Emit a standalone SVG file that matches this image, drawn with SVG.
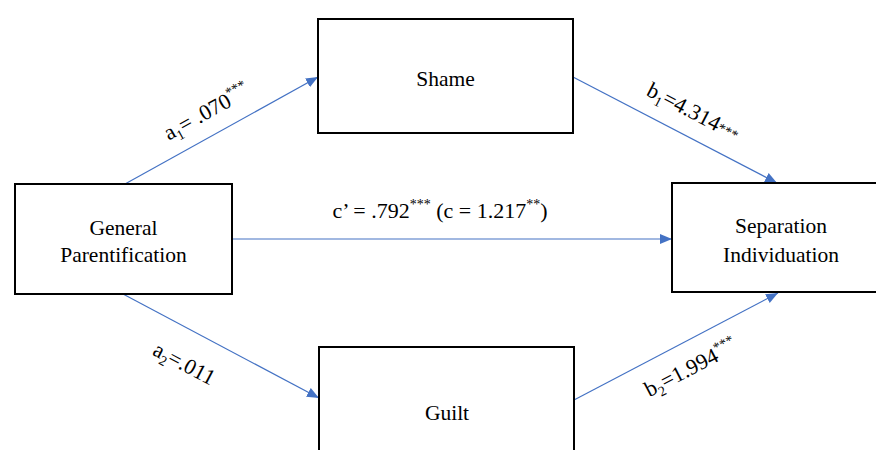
<svg xmlns="http://www.w3.org/2000/svg" width="876" height="450" viewBox="0 0 876 450">
<style>
text{font-family:'Times New Roman',Tinos,'Liberation Serif','DejaVu Serif','Noto Serif',Times,serif;fill:#000}
.lbl{font-size:22px}
.nt{font-size:21.5px;text-anchor:middle}
.sm{font-size:14px;fill:#000}
.box{fill:#fff;stroke:#000;stroke-width:2}
.cn{stroke:#4472C4;stroke-width:1.2;fill:none}
</style>
<defs>
<marker id="ah" markerUnits="userSpaceOnUse" markerWidth="12" markerHeight="10" refX="12" refY="5" orient="auto">
<path d="M0,0 L12,5 L0,10 Z" fill="#4472C4"/>
</marker>
</defs>
<rect width="876" height="450" fill="#fff"/>
<g id="connectors">
<line class="cn" x1="125" y1="184" x2="318" y2="77" marker-end="url(#ah)"/>
<line class="cn" x1="573" y1="77" x2="777" y2="183" marker-end="url(#ah)"/>
<line class="cn" x1="232" y1="239" x2="672" y2="239" marker-end="url(#ah)"/>
<line class="cn" x1="123" y1="294" x2="319" y2="398" marker-end="url(#ah)"/>
<line class="cn" x1="574" y1="400" x2="778" y2="293" marker-end="url(#ah)"/>
<text class="lbl" text-anchor="middle" transform="translate(210,118) rotate(-29)">a<tspan class="sm" dy="5">1</tspan><tspan dy="-5">= .070</tspan><tspan class="sm" dy="-9">***</tspan></text>
<text class="lbl" text-anchor="middle" transform="translate(690,118) rotate(27.5)">b<tspan class="sm" dy="5">1</tspan><tspan dy="-5">=4.314</tspan><tspan class="sm" dy="-1">***</tspan></text>
<text class="lbl" text-anchor="middle" x="440" y="218">c’ = .792<tspan class="sm" dy="-9">***</tspan><tspan dy="9"> (c = 1.217</tspan><tspan class="sm" dy="-9">**</tspan><tspan dy="9">)</tspan></text>
<text class="lbl" text-anchor="middle" transform="translate(181,370) rotate(28)">a<tspan class="sm" dy="5">2</tspan><tspan dy="-5">=.011</tspan></text>
<text class="lbl" text-anchor="middle" transform="translate(694,374) rotate(-27.5)">b<tspan class="sm" dy="5">2</tspan><tspan dy="-5">=1.994</tspan><tspan class="sm" dy="-9">***</tspan></text>
</g>
<g id="shame">
<rect class="box" x="318" y="19" width="255" height="114"/>
<text class="nt" x="445.5" y="86">Shame</text>
</g>
<g id="general-parentification">
<rect class="box" x="15" y="184" width="217" height="110"/>
<text class="nt" x="123.5" y="235">General</text>
<text class="nt" x="123.5" y="262">Parentification</text>
</g>
<g id="separation-individuation">
<rect class="box" x="672" y="183" width="220" height="109"/>
<text class="nt" x="781" y="233">Separation</text>
<text class="nt" x="781" y="262">Individuation</text>
</g>
<g id="guilt">
<rect class="box" x="319" y="347" width="255" height="115"/>
<text class="nt" x="447" y="420">Guilt</text>
</g>
</svg>
